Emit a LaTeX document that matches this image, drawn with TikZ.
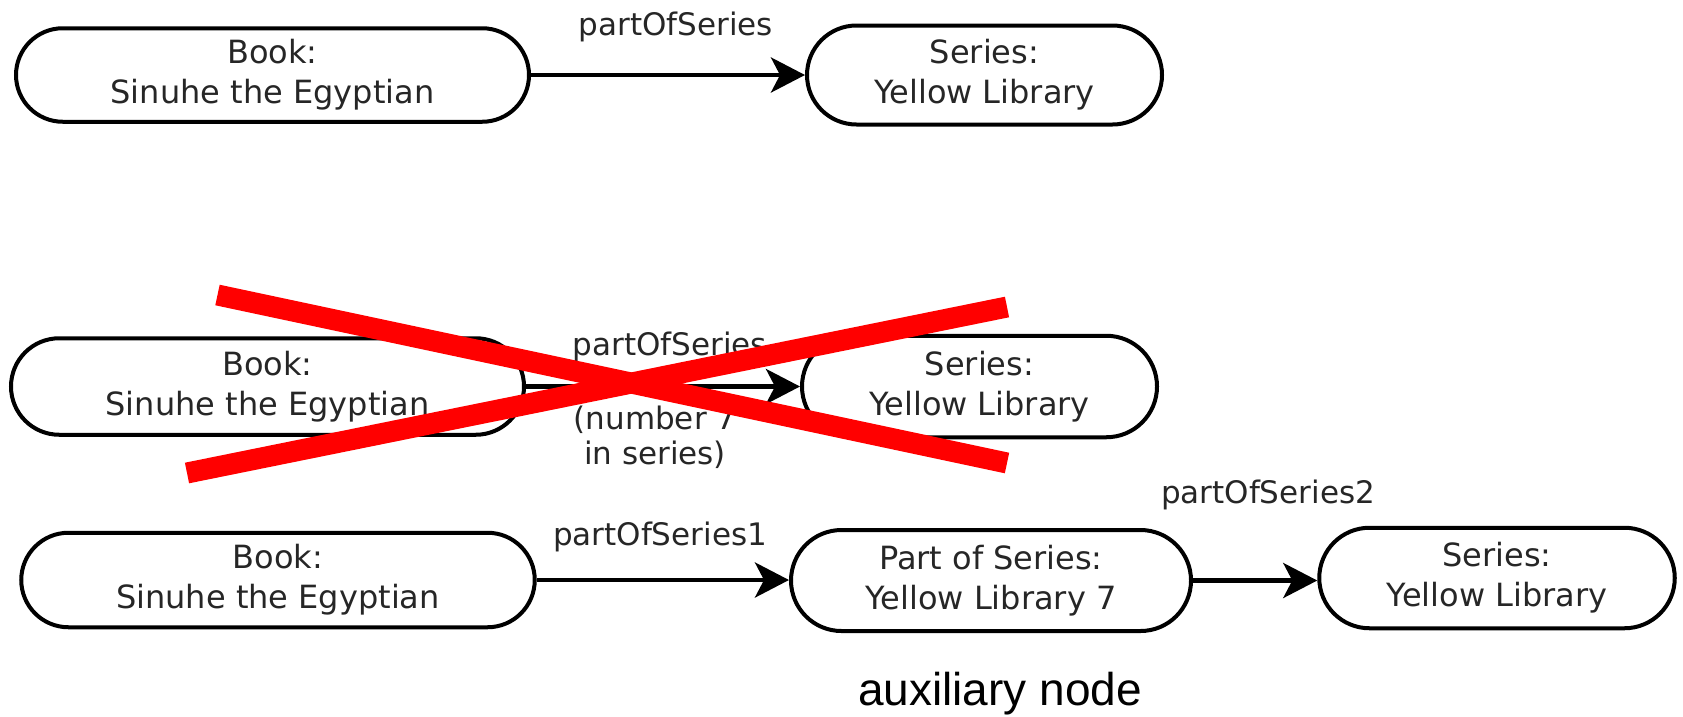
\documentclass[tikz,border=0pt]{standalone}
\usepackage{fontspec}
\newfontfamily\dvfont{DejaVu Sans}
\newfontfamily\arialfont{Liberation Sans}
\usetikzlibrary{shapes.misc,arrows.meta}
\definecolor{txt}{HTML}{262626}
\begin{document}
\begin{tikzpicture}[x=1pt,y=-1pt,
  ent/.style={rounded rectangle, draw=black, line width=4pt, inner sep=0pt,
    align=center, font=\dvfont\fontsize{32}{40}\selectfont, text=txt},
  lbl/.style={font=\dvfont\fontsize{31}{35}\selectfont, text=txt, inner sep=0pt, align=center},
  conn/.style={line width=4.5pt, -{Stealth[length=34pt,width=35pt,inset=9pt]}},
  redx/.style={draw=red, line width=21pt}]
\useasboundingbox (0,0) rectangle (1683,716);
% row 1
\node[ent, minimum width=513pt, minimum height=93.5pt] (b1) at (272.5,75) {Book:\\Sinuhe the Egyptian};
\node[ent, minimum width=355pt, minimum height=99pt] (s1) at (984.5,75) {Series:\\Yellow Library};
\draw[conn] (b1.east) -- (b1.east -| s1.west);
\node[lbl, anchor=base] (l1) at (676,35) {partOfSeries};
% row 2
\node[ent, minimum width=513pt, minimum height=96.5pt] (b2) at (267.5,386.5) {Book:\\Sinuhe the Egyptian};
\node[ent, minimum width=355pt, minimum height=101.5pt] (s2) at (979.5,386.5) {Series:\\Yellow Library};
\draw[conn] (b2.east) -- (b2.east -| s2.west);
\node[lbl, anchor=base] (l2) at (670,355) {partOfSeries};
\node[lbl] (l2b) at (655,437) {(number 7\\in series)};
\draw[redx] (217.5,295) -- (1007,463);
\draw[redx] (187,473) -- (1007,307);
% row 3
\node[ent, minimum width=513.5pt, minimum height=94.5pt] (b3) at (278,580) {Book:\\Sinuhe the Egyptian};
\node[ent, minimum width=400pt, minimum height=101pt] (p3) at (991,580.5) {Part of Series:\\Yellow Library 7};
\node[ent, minimum width=355.5pt, minimum height=100.5pt] (s3) at (1497,578) {Series:\\Yellow Library};
\draw[conn] (b3.east) -- (b3.east -| p3.west);
\draw[conn] (p3.east) -- (p3.east -| s3.west);
\node[lbl, anchor=base] (l3a) at (660,545) {partOfSeries1};
\node[lbl, anchor=base] (l3b) at (1268,503) {partOfSeries2};
\node[font=\arialfont\fontsize{46}{50}\selectfont, anchor=base, inner sep=0pt] (aux) at (1000,705) {auxiliary node};
\end{tikzpicture}
\end{document}
